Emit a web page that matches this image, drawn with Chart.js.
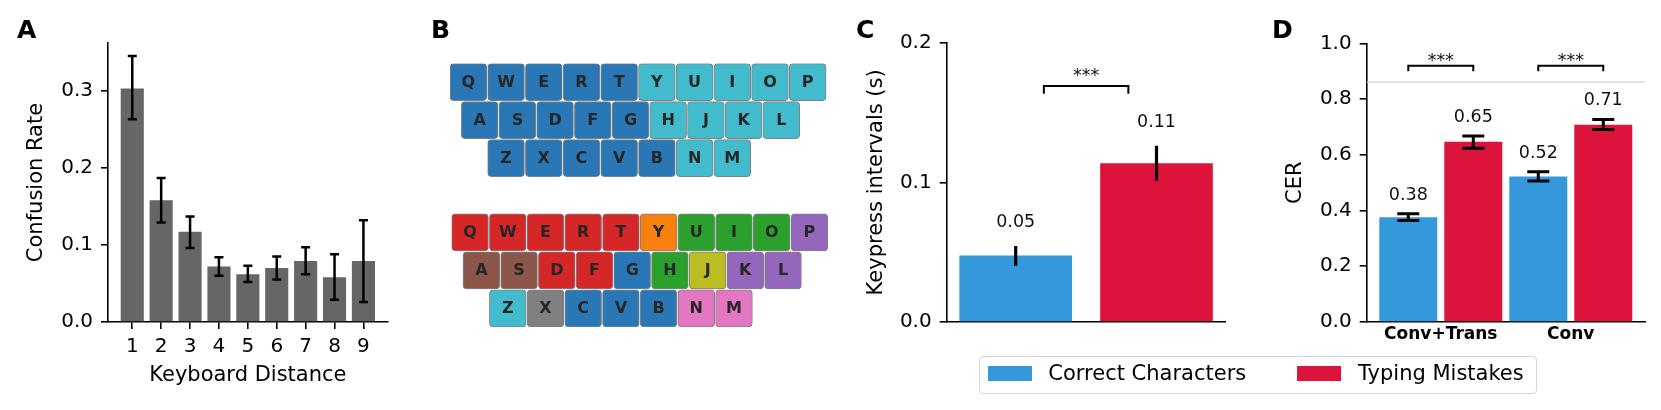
<!DOCTYPE html>
<html>
<head>
<meta charset="utf-8">
<script src="https://cdn.jsdelivr.net/npm/chart.js@4.4.1/dist/chart.umd.min.js"></script>
<style>
html,body{margin:0;padding:0;background:#fff;}
body{width:1661px;height:410px;position:relative;overflow:hidden;font-family:'DejaVu Sans',sans-serif;}
canvas{position:absolute;top:0;}
.plabel{position:absolute;top:17px;font-weight:bold;font-size:25px;line-height:25px;color:#000;}
#legend{position:absolute;left:979.3px;top:356px;width:556px;height:36.3px;border:1px solid #d6d6d6;border-radius:4px;box-sizing:content-box;}
#legend .sw{position:absolute;top:9px;width:44px;height:14.7px;}
#legend .tx{position:absolute;top:0;line-height:33.5px;font-size:21px;color:#000;white-space:nowrap;}
</style>
</head>
<body>
<canvas id="cA" width="400" height="410" style="left:0px"></canvas>
<canvas id="cB" width="440" height="410" style="left:400px"></canvas>
<canvas id="cC" width="440" height="410" style="left:800px"></canvas>
<canvas id="cD" width="421" height="410" style="left:1240px"></canvas>
<div class="plabel" style="left:17px">A</div>
<div class="plabel" style="left:431px">B</div>
<div class="plabel" style="left:856px">C</div>
<div class="plabel" style="left:1272px">D</div>
<div id="legend"></div>
<script>
// ---------------- DATA ----------------
// Panel A
const distanceCategories = [1, 2, 3, 4, 5, 6, 7, 8, 9];
const confusionRate = [0.303, 0.158, 0.117, 0.072, 0.062, 0.070, 0.079, 0.058, 0.079];
const confusionLow  = [0.263, 0.129, 0.096, 0.060, 0.052, 0.055, 0.062, 0.029, 0.026];
const confusionHigh = [0.345, 0.187, 0.137, 0.084, 0.073, 0.085, 0.097, 0.088, 0.132];
const confusionTicks = [0, 0.1, 0.2, 0.3];

// Panel B
const keyboardRows = ['QWERTYUIOP', 'ASDFGHJKL', 'ZXCVBNM'];
const handGroups    = ['LLLLLRRRRR', 'LLLLLRRRR', 'LLLLLRR'];
const clusterGroups = ['rrrrrogggp', 'nnrrbgypp', 'cabbbkk'];

// Panels C & D
const seriesNames = ['Correct Characters', 'Typing Mistakes'];
const keypressInterval = [0.0477, 0.1136];
const keypressLow  = [0.0403, 0.1011];
const keypressHigh = [0.0544, 0.1262];
const keypressTicks = [0, 0.1, 0.2];

const models = ['Conv+Trans', 'Conv'];
const cerCorrect     = [0.376, 0.522];
const cerCorrectLow  = [0.364, 0.506];
const cerCorrectHigh = [0.388, 0.539];
const cerMistake     = [0.647, 0.708];
const cerMistakeLow  = [0.623, 0.691];
const cerMistakeHigh = [0.667, 0.727];
const cerTicks = [0, 0.2, 0.4, 0.6, 0.8, 1.0];
const cerReference = 0.861;
const significanceLabel = '***';

// ---------------- STYLE ----------------
const FONT = "'DejaVu Sans', sans-serif";
Chart.defaults.font.family = FONT;
Chart.defaults.color = '#000';
const BLUE = '#3498db', RED = '#dc143c';
const handColors = {L: '#2977b4', R: '#42bccd'};
const clusterColors = {r: '#d62728', o: '#f7800f', g: '#2ca02c', p: '#9467bd', n: '#8c564b',
  b: '#2977b4', y: '#bcbd22', c: '#42bccd', a: '#808080', k: '#e377c2'};
const rowStagger = [0, 0.3, 1.0];
const boardRowStart = [0, 3.95];
const boardShiftX = [0, 0.045];
const keyWidth = 0.975;

const AX = 1.6;
function yAxis(width, min, max, ticks, title, titlePad, fmt) {
  return {
    type: 'linear', min, max, offset: false,
    afterBuildTicks: s => { s.ticks = ticks.map(v => ({value: v})); },
    afterFit: s => { s.width = width; },
    ticks: {padding: 8, font: {size: 20}, color: '#000', callback: v => fmt(v)},
    grid: {drawOnChartArea: false, drawTicks: true, tickLength: 7, color: '#000', lineWidth: AX, offset: false},
    border: {display: true, color: '#000', width: AX},
    title: {display: true, text: title, font: {size: 21}, color: '#000', padding: {top: titlePad, bottom: 0}}
  };
}

function errorBarPlugin(lows, highs, capHalf, width) {
  return {
    id: 'errbars',
    afterDatasetsDraw(chart) {
      const ctx = chart.ctx, ys = chart.scales.y;
      chart.data.datasets.forEach((ds, di) => {
        chart.getDatasetMeta(di).data.forEach((bar, j) => {
          const x = bar.x;
          const y1 = ys.getPixelForValue(lows[di][j]);
          const y2 = ys.getPixelForValue(highs[di][j]);
          ctx.save();
          ctx.strokeStyle = '#000';
          ctx.lineWidth = width;
          ctx.beginPath();
          ctx.moveTo(x, y1); ctx.lineTo(x, y2);
          if (capHalf > 0) {
            ctx.moveTo(x - capHalf, y1); ctx.lineTo(x + capHalf, y1);
            ctx.moveTo(x - capHalf, y2); ctx.lineTo(x + capHalf, y2);
          }
          ctx.stroke();
          ctx.restore();
        });
      });
    }
  };
}

function valueLabelPlugin(highs, offset) {
  return {
    id: 'vlabels',
    afterDatasetsDraw(chart) {
      const ctx = chart.ctx, ys = chart.scales.y;
      ctx.save();
      ctx.font = '17.5px ' + FONT;
      ctx.fillStyle = '#111';
      ctx.textAlign = 'center';
      ctx.textBaseline = 'middle';
      chart.data.datasets.forEach((ds, di) => {
        chart.getDatasetMeta(di).data.forEach((bar, j) => {
          const v = ds.data[j].y;
          ctx.fillText(v.toFixed(2), bar.x, ys.getPixelForValue(highs[di][j]) - offset);
        });
      });
      ctx.restore();
    }
  };
}

function drawBracket(ctx, x0, x1, yTop, yTip, textOffset) {
  ctx.save();
  ctx.strokeStyle = '#000';
  ctx.lineWidth = 2;
  ctx.beginPath();
  ctx.moveTo(x0, yTip); ctx.lineTo(x0, yTop); ctx.lineTo(x1, yTop); ctx.lineTo(x1, yTip);
  ctx.stroke();
  ctx.font = '17.5px ' + FONT;
  ctx.fillStyle = '#111';
  ctx.textAlign = 'center';
  ctx.textBaseline = 'middle';
  ctx.fillText(significanceLabel, (x0 + x1) / 2, yTop - textOffset);
  ctx.restore();
}

// ---------------- PANEL A ----------------
new Chart(document.getElementById('cA'), {
  type: 'bar',
  data: {datasets: [{
    label: 'Confusion Rate',
    data: distanceCategories.map((d, i) => ({x: d, y: confusionRate[i]})),
    backgroundColor: '#666666', barPercentage: 0.8, categoryPercentage: 1
  }]},
  options: {
    responsive: false, animation: false,
    layout: {padding: {left: 0, top: 43, right: 12.3, bottom: 0}},
    plugins: {legend: {display: false}, tooltip: {enabled: false}},
    scales: {
      x: {
        type: 'linear', min: 0.16, max: 9.84, offset: false,
        afterBuildTicks: s => { s.ticks = distanceCategories.map(v => ({value: v})); },
        afterFit: s => { s.height = 88; },
        ticks: {autoSkip: false, maxRotation: 0, padding: 6, font: {size: 20}, color: '#000', callback: v => String(v)},
        grid: {drawOnChartArea: false, drawTicks: true, tickLength: 7, color: '#000', lineWidth: AX, offset: false},
        border: {display: true, color: '#000', width: AX},
        title: {display: true, text: 'Keyboard Distance', font: {size: 21}, color: '#000', padding: {top: 0, bottom: 21.4}}
      },
      y: yAxis(108, 0, 0.362, confusionTicks, 'Confusion Rate', 24.4, v => v.toFixed(1))
    }
  },
  plugins: [errorBarPlugin([confusionLow], [confusionHigh], 4.5, 2.5)]
});

// ---------------- PANEL B ----------------
const keyData = [], keyColors = [], keyLetters = [];
[handGroups, clusterGroups].forEach((groups, b) => {
  keyboardRows.forEach((row, r) => {
    [...row].forEach((ch, c) => {
      const x0 = c + rowStagger[r] + boardShiftX[b];
      keyData.push({y: boardRowStart[b] + r, x: [x0, x0 + keyWidth]});
      const g = groups[r][c];
      keyColors.push(b === 0 ? handColors[g] : clusterColors[g]);
      keyLetters.push(ch);
    });
  });
});
new Chart(document.getElementById('cB'), {
  type: 'bar',
  data: {datasets: [{
    label: 'Keys', data: keyData, backgroundColor: keyColors,
    borderColor: 'rgba(45,45,45,0.6)', borderWidth: 1, borderRadius: 4, borderSkipped: false,
    barThickness: 37
  }]},
  options: {
    indexAxis: 'y', responsive: false, animation: false,
    layout: {padding: {left: 50, top: 63.2, right: 9.2, bottom: 82.7}},
    plugins: {legend: {display: false}, tooltip: {enabled: false}},
    scales: {
      x: {type: 'linear', min: 0, max: 10.1, display: false, offset: false},
      y: {type: 'linear', min: -0.5, max: 6.45, reverse: true, display: false, offset: false}
    }
  },
  plugins: [{
    id: 'keyletters',
    afterDatasetsDraw(chart) {
      const ctx = chart.ctx;
      ctx.save();
      ctx.font = 'bold 16px ' + FONT;
      ctx.fillStyle = '#262626';
      ctx.textAlign = 'center';
      ctx.textBaseline = 'middle';
      chart.getDatasetMeta(0).data.forEach((bar, i) => {
        const p = bar.getCenterPoint();
        ctx.fillText(keyLetters[i], p.x, p.y + 0.5);
      });
      ctx.restore();
    }
  }]
});

// ---------------- PANEL C ----------------
const cBracketSpan = [0.2, 0.8];
const cBracketY = [0.169, 0.1635];
new Chart(document.getElementById('cC'), {
  type: 'bar',
  data: {datasets: [{
    label: seriesNames.join(' / '),
    data: keypressInterval.map((v, i) => ({x: i, y: v})),
    backgroundColor: [BLUE, RED], barPercentage: 0.8, categoryPercentage: 1
  }]},
  options: {
    responsive: false, animation: false,
    layout: {padding: {left: 0, top: 42.7, right: 14.5, bottom: 0}},
    plugins: {legend: {display: false}, tooltip: {enabled: false}},
    scales: {
      x: {
        type: 'linear', min: -0.49, max: 1.49, offset: false,
        afterBuildTicks: s => { s.ticks = keypressInterval.map((v, i) => ({value: i})); },
        afterFit: s => { s.height = 88; },
        ticks: {display: false},
        grid: {display: false, drawTicks: false, offset: false},
        border: {display: true, color: '#000', width: AX}
      },
      y: yAxis(146.7, 0, 0.2, keypressTicks, 'Keypress intervals (s)', 64.4, v => v.toFixed(1))
    }
  },
  plugins: [
    errorBarPlugin([keypressLow], [keypressHigh], 0, 3.2),
    valueLabelPlugin([keypressHigh], 23.5),
    {
      id: 'bracketC',
      afterDatasetsDraw(chart) {
        const xs = chart.scales.x, ys = chart.scales.y;
        drawBracket(chart.ctx, xs.getPixelForValue(cBracketSpan[0]), xs.getPixelForValue(cBracketSpan[1]),
          ys.getPixelForValue(cBracketY[0]), ys.getPixelForValue(cBracketY[1]), 10);
      }
    }
  ]
});

// ---------------- PANEL D ----------------
const dBracketY = [0.919, 0.90];
new Chart(document.getElementById('cD'), {
  type: 'bar',
  data: {datasets: [
    {label: seriesNames[0], data: cerCorrect.map((v, i) => ({x: i, y: v})), backgroundColor: BLUE,
     barPercentage: 0.892, categoryPercentage: 1},
    {label: seriesNames[1], data: cerMistake.map((v, i) => ({x: i, y: v})), backgroundColor: RED,
     barPercentage: 0.892, categoryPercentage: 1}
  ]},
  options: {
    responsive: false, animation: false,
    layout: {padding: {left: 0, top: 43.3, right: 16, bottom: 0}},
    plugins: {legend: {display: false}, tooltip: {enabled: false}},
    scales: {
      x: {
        type: 'linear', min: -0.57, max: 1.571, offset: false,
        afterBuildTicks: s => { s.ticks = models.map((m, i) => ({value: i})); },
        afterFit: s => { s.height = 88; },
        ticks: {autoSkip: false, maxRotation: 0, padding: 2, font: {size: 17, weight: 'bold'}, color: '#000',
                callback: v => models[v]},
        grid: {display: false, drawTicks: false, offset: false},
        border: {display: true, color: '#000', width: AX}
      },
      y: yAxis(126.7, 0, 1.0, cerTicks, 'CER', 43.4, v => v.toFixed(1))
    }
  },
  plugins: [
    {
      id: 'refline',
      beforeDatasetsDraw(chart) {
        const ctx = chart.ctx, ys = chart.scales.y, a = chart.chartArea;
        const y = ys.getPixelForValue(cerReference);
        ctx.save();
        ctx.strokeStyle = '#d2d2d2';
        ctx.lineWidth = 1.2;
        ctx.beginPath(); ctx.moveTo(a.left, y); ctx.lineTo(a.right, y); ctx.stroke();
        ctx.restore();
      }
    },
    errorBarPlugin([cerCorrectLow, cerMistakeLow], [cerCorrectHigh, cerMistakeHigh], 11, 3),
    valueLabelPlugin([cerCorrectHigh, cerMistakeHigh], 18.5),
    {
      id: 'bracketD',
      afterDatasetsDraw(chart) {
        const ys = chart.scales.y;
        const m0 = chart.getDatasetMeta(0).data, m1 = chart.getDatasetMeta(1).data;
        models.forEach((m, j) => {
          drawBracket(chart.ctx, m0[j].x, m1[j].x, ys.getPixelForValue(dBracketY[0]), ys.getPixelForValue(dBracketY[1]), 4);
        });
      }
    }
  ]
});

// ---------------- LEGEND ----------------
const legend = document.getElementById('legend');
const legendPos = [[7.4, 68], [316.4, 377.7]];
[BLUE, RED].forEach((col, i) => {
  const sw = document.createElement('div');
  sw.className = 'sw'; sw.style.left = legendPos[i][0] + 'px'; sw.style.background = col;
  const tx = document.createElement('div');
  tx.className = 'tx'; tx.style.left = legendPos[i][1] + 'px'; tx.textContent = seriesNames[i];
  legend.appendChild(sw); legend.appendChild(tx);
});
</script>
</body>
</html>
